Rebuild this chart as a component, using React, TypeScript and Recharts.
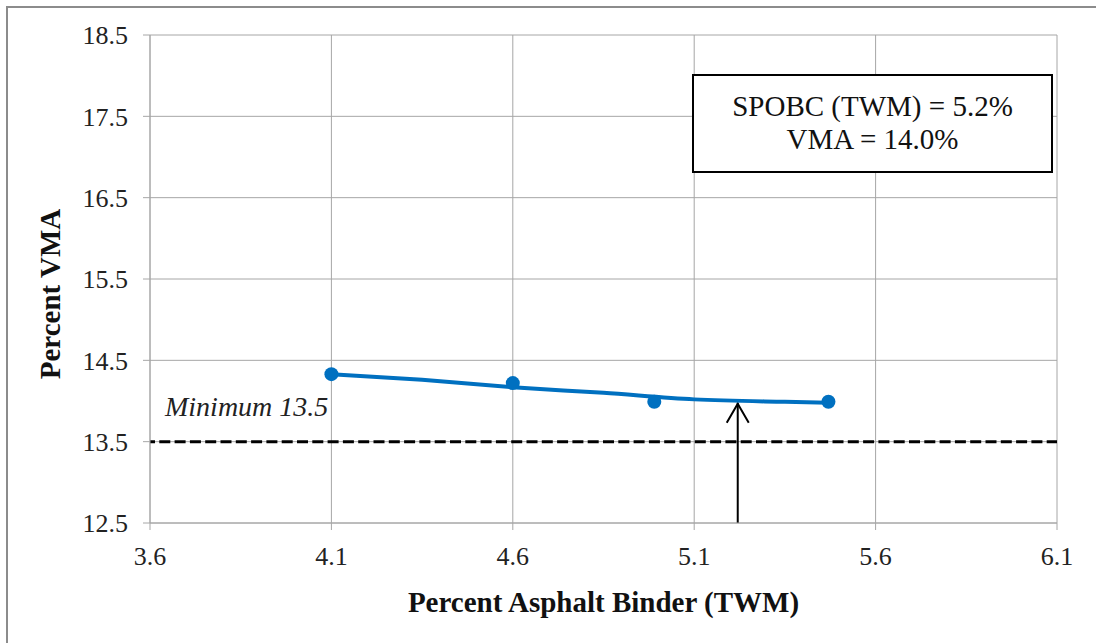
import React from "react";
import {
  ComposedChart,
  Line,
  Scatter,
  XAxis,
  YAxis,
  CartesianGrid,
  ReferenceLine,
} from "recharts";

// measured points (binder %, VMA %)
const binderPct = [4.1, 4.6, 4.99, 5.47];
const vmaPct = [14.33, 14.22, 13.99, 13.99];

// trend line
const trendBinder = [4.1, 4.35, 4.6, 4.85, 5.1, 5.35, 5.47];
const trendVma = [14.33, 14.26, 14.17, 14.1, 14.02, 13.99, 13.98];

const xTicks = [3.6, 4.1, 4.6, 5.1, 5.6, 6.1];
const yTicks = [12.5, 13.5, 14.5, 15.5, 16.5, 17.5, 18.5];

const MIN_VMA = 13.5;
const OPT_BINDER = 5.22;
const OPT_VMA = 13.98;

const FONT = '"Liberation Serif", "Times New Roman", serif';
const BLUE = "#0070C0";
const GRID = "#a6a6a6";

const points = binderPct.map((x, i) => ({ x, y: vmaPct[i] }));
const trend = trendBinder.map((x, i) => ({ x, y: trendVma[i] }));

const ArrowShape = (props: any) => {
  const { x1, y1, x2, y2 } = props;
  const top = Math.min(y1, y2);
  const bottom = Math.max(y1, y2);
  return (
    <g>
      <line x1={x1} y1={bottom} x2={x2} y2={top} stroke="#000" strokeWidth={2} />
      <polyline
        points={`${x1 - 11},${top + 20} ${x1},${top + 1} ${x1 + 11},${top + 20}`}
        fill="none"
        stroke="#000"
        strokeWidth={2}
      />
    </g>
  );
};

const MinLabel = (props: any) => {
  const { viewBox } = props;
  return (
    <text
      x={viewBox.x + 15}
      y={viewBox.y - 26}
      fontFamily={FONT}
      fontStyle="italic"
      fontSize={28}
      fill="#222"
    >
      Minimum 13.5
    </text>
  );
};

const XTitle = (props: any) => {
  const { viewBox } = props;
  return (
    <text
      x={viewBox.x + viewBox.width / 2}
      y={612}
      textAnchor="middle"
      fontFamily={FONT}
      fontWeight="bold"
      fontSize={29}
      fill="#111"
    >
      Percent Asphalt Binder (TWM)
    </text>
  );
};

const YTitle = () => (
  <text
    x={60}
    y={294}
    transform="rotate(-90, 60, 294)"
    textAnchor="middle"
    fontFamily={FONT}
    fontWeight="bold"
    fontSize={29}
    fill="#111"
  >
    Percent VMA
  </text>
);

export default function App() {
  return (
    <div
      style={{
        position: "absolute",
        left: 0,
        top: 0,
        width: 1096,
        height: 643,
        background: "#fff",
        overflow: "hidden",
      }}
    >
      <div
        style={{
          position: "absolute",
          left: 6,
          top: 6,
          width: 1200,
          height: 700,
          borderLeft: "2px solid #8c8c8c",
          borderTop: "2px solid #8c8c8c",
        }}
      />
      <div style={{ position: "absolute", left: 0, top: 0 }}>
        <ComposedChart
          width={1096}
          height={643}
          margin={{ top: 35, right: 39, left: 70, bottom: 60 }}
        >
          <CartesianGrid stroke={GRID} strokeWidth={1} />
          <XAxis
            type="number"
            dataKey="x"
            domain={[3.6, 6.1]}
            ticks={xTicks}
            interval={0}
            height={60}
            tickSize={7}
            tickMargin={17}
            stroke={GRID}
            tick={{ fill: "#222", fontSize: 26, fontFamily: FONT }}
            tickFormatter={(v: number) => v.toFixed(1)}
            label={<XTitle />}
            allowDataOverflow
          />
          <YAxis
            type="number"
            dataKey="y"
            domain={[12.5, 18.5]}
            ticks={yTicks}
            interval={0}
            width={80}
            tickSize={7}
            tickMargin={15}
            stroke={GRID}
            tick={{ fill: "#222", fontSize: 26, fontFamily: FONT }}
            tickFormatter={(v: number) => v.toFixed(1)}
            label={<YTitle />}
            allowDataOverflow
          />
          <ReferenceLine
            y={MIN_VMA}
            stroke="#000"
            strokeWidth={3}
            strokeDasharray="11 4.3"
            strokeDashoffset={6}
            label={<MinLabel />}
          />
          <ReferenceLine
            segment={[
              { x: OPT_BINDER, y: 12.5 },
              { x: OPT_BINDER, y: OPT_VMA },
            ]}
            shape={<ArrowShape />}
          />
          <Line
            data={trend}
            dataKey="y"
            type="monotone"
            stroke={BLUE}
            strokeWidth={4}
            dot={false}
            activeDot={false}
            isAnimationActive={false}
          />
          <Scatter
            data={points}
            dataKey="y"
            fill={BLUE}
            shape={(p: any) => <circle cx={p.cx} cy={p.cy} r={7} fill={BLUE} />}
            isAnimationActive={false}
          />
        </ComposedChart>
      </div>
      <div
        style={{
          position: "absolute",
          left: 692,
          top: 74,
          width: 361,
          height: 99,
          border: "2px solid #000",
          background: "#fff",
          fontFamily: FONT,
          fontSize: 29,
          color: "#111",
          textAlign: "center",
          lineHeight: "33px",
          paddingTop: 14,
          boxSizing: "border-box",
        }}
      >
        <div>SPOBC (TWM) = 5.2%</div>
        <div>VMA = 14.0%</div>
      </div>
    </div>
  );
}
